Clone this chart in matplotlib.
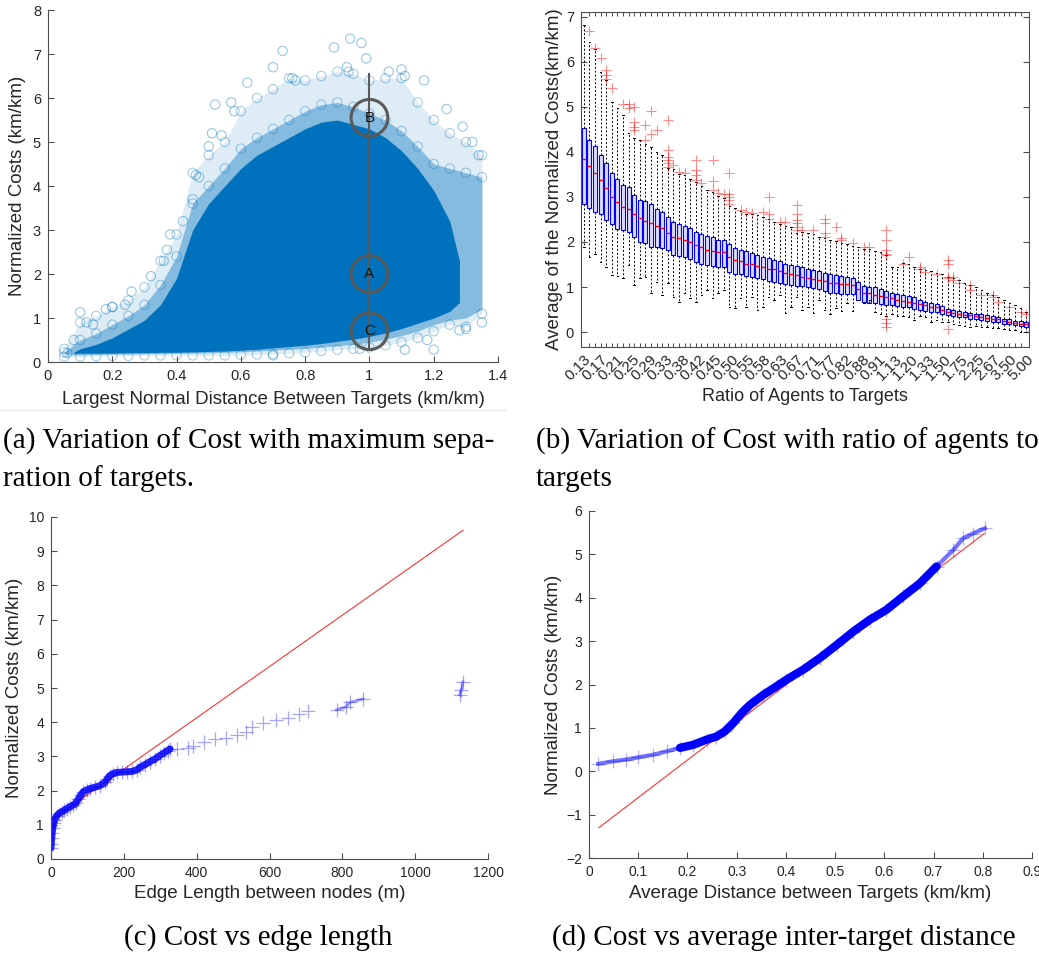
import numpy as np
import matplotlib.pyplot as plt
from matplotlib.lines import Line2D

plt.rcParams['font.family'] = ['Liberation Sans', 'DejaVu Sans']

# ---------------- (a) scatter cloud ----------------
a_x = [0.05, 0.10, 0.15, 0.20, 0.25, 0.30, 0.35, 0.40, 0.45, 0.50, 0.55, 0.60, 0.65, 0.70,
       0.75, 0.80, 0.85, 0.90, 0.95, 1.00, 1.05, 1.10, 1.15, 1.20, 1.25, 1.30, 1.35]
fringe_hi = [0.30, 0.90, 1.05, 1.25, 1.40, 1.70, 2.30, 2.90, 4.30, 4.70, 5.00, 5.70, 6.00, 6.20,
             6.45, 6.40, 6.50, 6.60, 6.55, 6.40, 6.45, 6.45, 5.90, 5.50, 5.20, 5.00, 4.70]
fringe_lo = [0.12, 0.12, 0.13, 0.14, 0.14, 0.15, 0.15, 0.15, 0.15, 0.15, 0.15, 0.16, 0.17, 0.18,
             0.20, 0.22, 0.25, 0.28, 0.30, 0.33, 0.38, 0.45, 0.55, 0.70, 0.85, 0.80, 1.10]
mid_hi = [0.22, 0.50, 0.65, 0.85, 1.05, 1.30, 1.75, 2.40, 3.60, 4.00, 4.40, 4.85, 5.10, 5.30,
          5.50, 5.70, 5.85, 5.90, 5.80, 5.65, 5.50, 5.25, 4.90, 4.50, 4.40, 4.30, 4.20]
mid_lo = [0.18, 0.16, 0.17, 0.18, 0.18, 0.19, 0.19, 0.20, 0.20, 0.21, 0.22, 0.23, 0.25, 0.27,
          0.29, 0.31, 0.34, 0.37, 0.40, 0.45, 0.52, 0.60, 0.70, 0.85, 0.95, 1.00, 1.20]
core_x = [0.08, 0.10, 0.15, 0.20, 0.25, 0.30, 0.35, 0.40, 0.45, 0.50, 0.55, 0.60, 0.65, 0.70,
          0.75, 0.80, 0.85, 0.90, 0.95, 1.00, 1.05, 1.10, 1.15, 1.20, 1.25, 1.28]
core_hi = [0.22, 0.30, 0.40, 0.55, 0.75, 0.95, 1.30, 1.90, 3.00, 3.60, 4.00, 4.40, 4.70, 4.90,
           5.10, 5.30, 5.45, 5.50, 5.40, 5.30, 5.10, 4.80, 4.40, 3.90, 3.20, 2.30]
core_lo = [0.20, 0.20, 0.20, 0.20, 0.21, 0.21, 0.22, 0.22, 0.23, 0.24, 0.25, 0.27, 0.29, 0.32,
           0.35, 0.38, 0.42, 0.47, 0.52, 0.58, 0.66, 0.76, 0.88, 1.00, 1.15, 1.35]
out_x = [0.94, 0.975, 0.73, 0.89, 0.99, 0.93, 0.935, 0.70, 0.76, 0.62, 0.77, 1.10, 1.06, 1.11,
         1.17, 0.52, 0.57, 0.58, 0.51, 0.54, 0.50, 0.46, 0.47, 0.45, 0.42, 0.38, 0.37, 0.36,
         0.32, 0.26, 0.10, 0.12, 0.18, 0.20, 0.08, 0.06, 1.24, 1.29, 1.32, 1.34, 1.28, 1.30,
         1.35, 1.20, 1.11, 1.18, 0.70, 0.97, 0.14, 0.24]
out_y = [7.35, 7.25, 7.07, 7.15, 6.90, 6.70, 6.60, 6.70, 6.45, 6.35, 6.40, 6.65, 6.60, 6.50,
         6.40, 5.85, 5.90, 5.70, 5.20, 5.15, 4.90, 4.25, 4.20, 3.70, 3.20, 2.90, 2.55, 2.30,
         1.95, 1.60, 1.13, 0.90, 1.20, 1.25, 0.50, 0.20, 5.75, 5.35, 5.00, 4.70, 0.72, 0.75,
         0.90, 0.28, 0.28, 0.50, 0.15, 0.30, 0.85, 1.30]
ring_y = [5.55, 2.00, 0.70]
ring_txt = ['B', 'A', 'C']

# ---------------- (b) box plot statistics per ratio ----------------
b_labels = ['0.13', '0.17', '0.21', '0.25', '0.29', '0.33', '0.38', '0.42', '0.45', '0.50',
            '0.55', '0.58', '0.63', '0.67', '0.71', '0.77', '0.82', '0.88', '0.91', '1.13',
            '1.20', '1.33', '1.50', '1.75', '2.25', '2.67', '3.50', '5.00']
b_q3 = [4.52, 4.26, 4.12, 3.92, 3.74, 3.52, 3.39, 3.27, 3.22, 3.04,
        2.94, 2.90, 2.84, 2.74, 2.67, 2.56, 2.45, 2.39, 2.36, 2.31,
        2.22, 2.17, 2.13, 2.10, 2.05, 2.04, 1.95, 1.86, 1.82, 1.80,
        1.76, 1.71, 1.67, 1.65, 1.61, 1.58, 1.52, 1.49, 1.47, 1.45,
        1.41, 1.37, 1.35, 1.32, 1.29, 1.26, 1.25, 1.23, 1.20, 1.12,
        1.02, 1.01, 0.99, 0.95, 0.92, 0.87, 0.84, 0.82, 0.81, 0.78,
        0.71, 0.67, 0.65, 0.62, 0.58, 0.52, 0.49, 0.47, 0.45, 0.43,
        0.41, 0.40, 0.38, 0.35, 0.34, 0.30, 0.28, 0.25, 0.24, 0.23]
b_q1 = [2.85, 2.76, 2.67, 2.63, 2.48, 2.39, 2.28, 2.26, 2.22, 2.11,
        1.99, 1.97, 1.89, 1.88, 1.86, 1.82, 1.71, 1.69, 1.66, 1.63,
        1.56, 1.52, 1.49, 1.46, 1.45, 1.45, 1.34, 1.30, 1.29, 1.24,
        1.23, 1.19, 1.17, 1.14, 1.12, 1.09, 1.06, 1.04, 1.03, 1.02,
        1.01, 0.97, 0.95, 0.92, 0.87, 0.86, 0.84, 0.84, 0.84, 0.71,
        0.67, 0.65, 0.64, 0.62, 0.60, 0.60, 0.58, 0.56, 0.56, 0.52,
        0.49, 0.47, 0.45, 0.45, 0.41, 0.38, 0.35, 0.34, 0.33, 0.30,
        0.28, 0.27, 0.25, 0.23, 0.22, 0.19, 0.18, 0.16, 0.14, 0.12]
b_med = [3.83, 3.68, 3.52, 3.37, 3.19, 3.00, 2.88, 2.78, 2.72, 2.63,
         2.54, 2.47, 2.41, 2.35, 2.30, 2.19, 2.11, 2.08, 2.04, 2.00,
         1.93, 1.88, 1.83, 1.80, 1.78, 1.77, 1.67, 1.60, 1.58, 1.52,
         1.51, 1.47, 1.45, 1.41, 1.39, 1.35, 1.32, 1.29, 1.26, 1.23,
         1.21, 1.18, 1.15, 1.13, 1.09, 1.08, 1.06, 1.06, 1.04, 0.95,
         0.87, 0.86, 0.82, 0.80, 0.77, 0.75, 0.71, 0.69, 0.67, 0.65,
         0.62, 0.60, 0.56, 0.55, 0.50, 0.45, 0.43, 0.41, 0.39, 0.37,
         0.35, 0.34, 0.32, 0.30, 0.29, 0.25, 0.23, 0.21, 0.19, 0.18]
b_hi = [6.81, 6.44, 6.29, 5.77, 5.59, 5.11, 4.96, 4.81, 4.41, 4.30,
        4.26, 4.18, 4.10, 4.00, 3.92, 3.65, 3.62, 3.50, 3.48, 3.40,
        3.32, 3.25, 3.15, 3.10, 3.02, 2.98, 2.80, 2.75, 2.68, 2.63,
        2.62, 2.60, 2.55, 2.50, 2.44, 2.40, 2.35, 2.33, 2.20, 2.22,
        2.20, 2.18, 2.12, 2.08, 2.05, 2.02, 1.98, 1.95, 1.92, 1.88,
        1.85, 1.84, 1.80, 1.78, 1.71, 1.44, 1.44, 1.53, 1.50, 1.45,
        1.40, 1.37, 1.35, 1.31, 1.28, 1.22, 1.20, 1.15, 1.10, 1.04,
        1.00, 0.93, 0.86, 0.82, 0.78, 0.71, 0.64, 0.60, 0.53, 0.44]
b_lo = [1.88, 1.66, 1.73, 1.55, 1.44, 1.26, 1.24, 1.21, 1.49, 1.04,
        1.19, 1.22, 0.86, 1.11, 0.82, 1.08, 0.78, 0.67, 0.86, 0.75,
        0.67, 0.82, 0.93, 0.75, 0.86, 0.93, 0.55, 0.53, 0.75, 0.55,
        0.78, 0.49, 0.55, 0.78, 0.71, 0.82, 0.42, 0.55, 0.78, 0.49,
        0.55, 0.42, 0.71, 0.49, 0.40, 0.53, 0.47, 0.64, 0.47, 0.71,
        0.64, 0.71, 0.45, 0.40, 0.35, 0.40, 0.35, 0.35, 0.33, 0.27,
        0.35, 0.33, 0.22, 0.27, 0.22, 0.22, 0.18, 0.16, 0.13, 0.11,
        0.14, 0.11, 0.11, 0.09, 0.09, 0.07, 0.04, 0.04, 0.00, 0.00]
flier_box = [2, 3, 4, 5, 5, 5, 6, 8, 9, 9, 10, 10, 10, 10, 12, 12, 13, 13, 14,
             16, 16, 16, 16, 16, 16, 17, 18, 19, 21, 21, 21, 21, 22, 24, 24, 24, 25, 26,
             27, 27, 27, 27, 27, 29, 30, 31, 33, 34, 34, 34, 36, 37, 39, 39, 39, 39, 39, 39,
             40, 42, 44, 44, 44, 44, 46, 47, 47, 49, 51, 52, 55, 55, 55, 55, 55, 55, 55, 55,
             58, 59, 61, 61, 62, 64, 66, 66, 66, 66, 66, 67, 67, 68, 70, 70, 72, 74, 74,
             75, 77, 79, 80]
flier_val = [6.68, 6.30, 6.07, 5.81, 5.70, 5.62, 5.42, 5.07, 5.07, 4.96, 5.00, 4.66, 4.55, 4.48,
             4.59, 4.26, 4.90, 4.40, 4.48,
             4.70, 4.04, 3.89, 3.81, 3.74, 3.67, 3.70, 3.55, 3.52, 3.81, 3.59, 3.48, 3.37,
             3.30, 3.81, 3.35, 3.15, 3.09, 3.07,
             3.52, 3.07, 3.00, 2.93, 2.85, 2.70, 2.67, 2.65, 2.67, 3.00, 2.63, 2.52, 2.45, 2.45,
             2.82, 2.63, 2.48, 2.41, 2.34, 2.26,
             2.26, 2.26, 2.52, 2.41, 2.19, 2.11, 2.34, 2.08, 2.04, 1.98, 1.89, 1.89,
             2.26, 2.04, 1.82, 1.74, 1.71, 0.28, 0.20, 0.12,
             1.52, 1.67, 1.45, 1.41, 1.34, 1.30, 1.60, 1.52, 1.23, 1.19, 0.08, 1.23, 1.15, 1.08,
             1.04, 0.93, 0.82, 0.82, 0.78, 0.67, 0.56, 0.45, 0.41]

# ---------------- (c) cost vs edge length ----------------
c_len = [0, 1, 2, 3, 5, 7, 10, 16, 22, 29, 36, 43, 52, 61, 68, 75, 82, 89, 98, 107, 120, 134,
         148, 155, 162, 171, 180, 194, 208, 222, 235, 244, 258, 272, 285, 298, 310, 320, 327,
         345, 375, 391, 420, 450, 480, 510, 535, 551, 583, 619, 650, 680, 706,
         784, 811, 820, 857, 1122, 1127, 1131]
c_cost = [0.32, 0.45, 0.60, 0.75, 0.90, 1.05, 1.15, 1.27, 1.33, 1.38, 1.42, 1.47, 1.53, 1.58,
          1.63, 1.75, 1.88, 1.97, 2.02, 2.06, 2.10, 2.14, 2.24, 2.35, 2.44, 2.50, 2.53, 2.54,
          2.55, 2.56, 2.60, 2.68, 2.76, 2.85, 2.92, 3.02, 3.10, 3.17, 3.22,
          3.22, 3.25, 3.30, 3.42, 3.50, 3.55, 3.63, 3.70, 3.87, 3.97, 4.05, 4.12, 4.25, 4.32,
          4.36, 4.45, 4.58, 4.68, 4.80, 4.94, 5.18]
c_fit_x = [0, 1131]
c_fit_y = [1.13, 9.61]

# ---------------- (d) cost vs average distance ----------------
d_dist = [0.019, 0.049, 0.076, 0.100, 0.130, 0.158, 0.185, 0.212, 0.239, 0.259, 0.276, 0.293,
          0.310, 0.327, 0.354, 0.381, 0.401, 0.435, 0.469, 0.503, 0.537, 0.570, 0.604, 0.638,
          0.672, 0.706, 0.740, 0.760, 0.780, 0.804]
d_cost = [0.17, 0.23, 0.27, 0.32, 0.38, 0.46, 0.54, 0.61, 0.73, 0.80, 0.92, 1.11,
          1.34, 1.53, 1.76, 1.96, 2.11, 2.34, 2.61, 2.91, 3.22, 3.49, 3.72, 4.03,
          4.33, 4.72, 5.10, 5.37, 5.48, 5.60]
d_fit_x = [0.02, 0.803]
d_fit_y = [-1.30, 5.48]

W, H = 1039, 957
fig = plt.figure(figsize=(W / 100, H / 100), dpi=100)
TXT = '#262626'
AX = '#4d4d4d'
MBLUE = '#0072BD'


def px_axes(l, t, r, b):
    return fig.add_axes([l / W, 1 - b / H, (r - l) / W, (b - t) / H])


def style(ax, box=False, size=10):
    for s in ['top', 'right']:
        ax.spines[s].set_visible(box)
    for s in ax.spines.values():
        s.set_color(AX)
        s.set_linewidth(0.8)
    ax.tick_params(direction='in', colors=AX, labelcolor=TXT, labelsize=size, length=4,
                   width=0.8, top=box, right=box, pad=5)


# (a)
ax = px_axes(48, 10, 498, 362)
ax.fill_between(a_x, fringe_lo, fringe_hi, color=MBLUE, alpha=0.13, lw=0)
ax.fill_between(a_x, mid_lo, mid_hi, color=MBLUE, alpha=0.4, lw=0)
ax.fill_between(core_x, core_lo, core_hi, color=MBLUE, lw=0)
ax.scatter(a_x, fringe_hi, s=45, facecolors='none', edgecolors=MBLUE, alpha=0.35, lw=0.8)
ax.scatter(a_x, mid_hi, s=45, facecolors='none', edgecolors=MBLUE, alpha=0.35, lw=0.8)
ax.scatter(a_x, fringe_lo, s=45, facecolors='none', edgecolors=MBLUE, alpha=0.35, lw=0.8)
ax.scatter(out_x, out_y, s=45, facecolors='none', edgecolors=MBLUE, alpha=0.4, lw=0.8)
ax.plot([1, 1], [0.3, 6.55], color='#5a5a5a', lw=1.5)
ax.scatter([1] * 3, ring_y, s=700, facecolors='none', edgecolors='#5a5a5a', lw=2.2, zorder=3)
for yy, t in zip(ring_y, ring_txt):
    ax.text(1, yy, t, ha='center', va='center', fontsize=11, color='#111111', zorder=4)
ax.set_xlim(0, 1.4)
ax.set_ylim(0, 8)
ax.set_xticks(np.arange(0, 1.41, 0.2))
ax.set_xticklabels(['0', '0.2', '0.4', '0.6', '0.8', '1', '1.2', '1.4'])
style(ax, size=10.5)
ax.set_xlabel('Largest Normal Distance Between Targets (km/km)', fontsize=13.5, color=TXT,
              labelpad=6)
ax.set_ylabel('Normalized Costs (km/km)', fontsize=13.5, color=TXT, labelpad=5)
fig.add_artist(Line2D([0, 505 / W], [1 - 410 / H] * 2, color='#e6e6e6', lw=1))

# (b)
bx = px_axes(581, 12, 1029, 347)
stats = []
for i in range(len(b_med)):
    stats.append(dict(med=b_med[i], q1=b_q1[i], q3=b_q3[i], whislo=b_lo[i], whishi=b_hi[i],
                      fliers=[v for k, v in zip(flier_box, flier_val) if k == i + 1]))
pos = np.arange(1, len(b_med) + 1)
bx.bxp(stats, positions=pos, widths=0.68, patch_artist=True, capwidths=0.3,
       boxprops=dict(edgecolor='blue', facecolor='#dcdcff', lw=0.8),
       whiskerprops=dict(color='black', ls=(0, (2, 2)), lw=0.7),
       capprops=dict(color='black', lw=0.7),
       medianprops=dict(color='red', lw=1),
       flierprops=dict(marker='+', markeredgecolor='red', markersize=7, alpha=0.45, mew=0.8))
bx.set_xlim(0.5, len(b_med) + 0.5)
bx.set_ylim(-0.33, 7.1)
bx.set_xticks(pos, minor=True)
bx.set_xticks(np.linspace(1, len(b_med), len(b_labels)))
bx.set_xticklabels(b_labels, rotation=45, ha='right', rotation_mode='anchor')
bx.set_yticks(range(0, 8))
style(bx, box=True, size=10.5)
bx.tick_params(axis='x', which='major', length=0, pad=4, labelsize=11)
bx.tick_params(axis='x', which='minor', direction='in', length=3, top=True, bottom=True,
               color=AX, width=0.7)
bx.set_xlabel('Ratio of Agents to Targets', fontsize=13, color=TXT, labelpad=3)
bx.set_ylabel('Average of the Normalized Costs(km/km)', fontsize=13.5, color=TXT, labelpad=2)

# (c)
cx = px_axes(51, 517, 488, 859)
cl = np.array(c_len)
cc = np.array(c_cost)
dense = cl <= 330
cx.plot(c_fit_x, c_fit_y, color='red', lw=0.8, alpha=0.8)
cx.plot(cl[dense], cc[dense], color='blue', lw=5, alpha=0.85, solid_capstyle='round')
breaks = np.where(np.diff(cl) > 50)[0] + 1
for seg_x, seg_y in zip(np.split(cl, breaks), np.split(cc, breaks)):
    if seg_x[0] > 330:
        cx.plot(seg_x, seg_y, color='blue', lw=2, alpha=0.4)
cx.plot(cl, cc, '+', color='blue', ms=10, mew=0.9, alpha=0.35)
cx.set_xlim(0, 1200)
cx.set_ylim(0, 10)
cx.set_yticks(range(0, 11))
style(cx, size=10)
cx.set_xlabel('Edge Length between nodes (m)', fontsize=13.5, color=TXT, labelpad=4)
cx.set_ylabel('Normalized Costs (km/km)', fontsize=13.5, color=TXT, labelpad=4)

# (d)
dx = px_axes(589, 511, 1032, 858)
dd = np.array(d_dist)
dc = np.array(d_cost)
mid = (dd >= 0.18) & (dd <= 0.72)
dx.plot(d_fit_x, d_fit_y, color='red', lw=0.8, alpha=0.8)
dx.plot(dd, dc, color='blue', lw=3, alpha=0.55)
dx.plot(dd[mid], dc[mid], color='blue', lw=6, solid_capstyle='round')
dx.plot(dd, dc, '+', color='blue', ms=10, mew=0.9, alpha=0.3)
dx.set_xlim(0, 0.9)
dx.set_ylim(-2, 6)
dx.set_xticks(np.arange(0, 0.91, 0.1))
dx.set_xticklabels(['0', '0.1', '0.2', '0.3', '0.4', '0.5', '0.6', '0.7', '0.8', '0.9'])
style(dx, size=10)
dx.set_xlabel('Average Distance between Targets (km/km)', fontsize=13.5, color=TXT, labelpad=4)
dx.set_ylabel('Normalized Costs (km/km)', fontsize=13.5, color=TXT, labelpad=3)

# captions
cap = dict(family=['Liberation Serif', 'DejaVu Serif'], fontsize=21, color='black', va='center')
fig.text(3 / W, 1 - 441 / H, '(a) Variation of Cost with maximum sepa-', **cap)
fig.text(3 / W, 1 - 479 / H, 'ration of targets.', **cap)
fig.text(536 / W, 1 - 441 / H, '(b) Variation of Cost with ratio of agents to', **cap)
fig.text(536 / W, 1 - 479 / H, 'targets', **cap)
fig.text(258 / W, 1 - 938 / H, '(c) Cost vs edge length', ha='center', **cap)
fig.text(784 / W, 1 - 938 / H, '(d) Cost vs average inter-target distance', ha='center', **cap)

fig.savefig('out.png', dpi=100)
